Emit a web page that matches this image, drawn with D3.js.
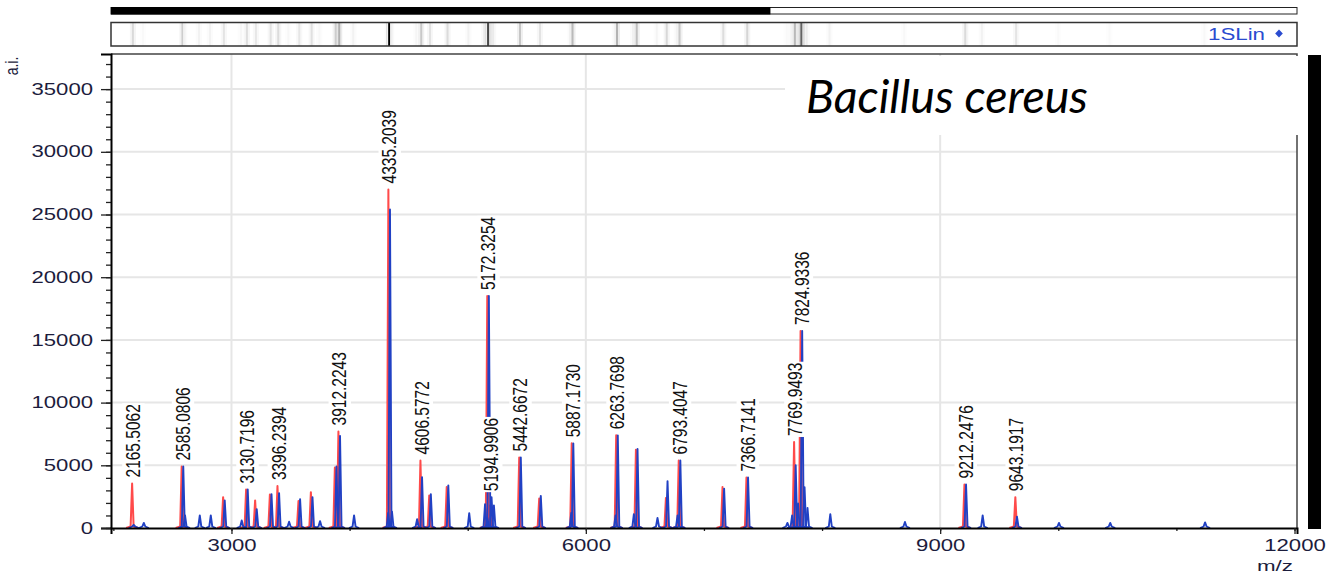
<!DOCTYPE html>
<html>
<head>
<meta charset="utf-8">
<script src="https://cdn.jsdelivr.net/npm/d3@7"></script>
<style>
  body { margin: 0; background: #fff; }
  svg { display: block; font-family: Arial, "Liberation Sans", sans-serif; }
</style>
</head>
<body>
<script>
/* ---------------------------------- Data ---------------------------------- */
// m/z of every stick seen in the spectrum (labelled peaks + smaller ones)
const peakMz = [2165.5, 2251, 2585.1, 2600, 2725, 2818, 2936, 3080, 3130.7, 3207,
  3332, 3396.2, 3481, 3574, 3679, 3743, 3882, 3912.2, 4031, 4320,
  4335.2, 4352, 4565, 4606.6, 4681, 4829, 5006, 5140, 5160, 5172.3,
  5195, 5215, 5442.7, 5612, 5870, 5887.2, 6245, 6263.8, 6400, 6431,
  6600, 6685, 6770, 6793.4, 7164, 7366.7, 7700, 7740, 7770, 7790,
  7824.9, 7845, 7870, 8063, 8695, 9212.2, 9353, 9643.2, 9999, 10433, 11236];
// intensity of the red (peak list) sticks, a.i.
const redInt = [3550, 0, 4900, 0, 0, 0, 2460, 0, 3080, 2200,
  2680, 3340, 0, 2150, 2860, 0, 4830, 7700, 0, 0,
  27000, 0, 0, 5390, 2600, 3260, 0, 0, 1500, 18500,
  1800, 0, 5630, 2350, 0, 6750, 0, 7390, 0, 6250,
  0, 2400, 0, 5390, 3260, 4030, 0, 0, 6860, 0,
  15720, 0, 0, 0, 0, 3470, 0, 2460, 0, 0, 0];
// intensity of the blue (raw spectrum) trace, a.i.
const blueInt = [250, 400, 4900, 1000, 1000, 1000, 2200, 600, 3080, 1500,
  2700, 2780, 500, 2300, 2460, 550, 4900, 7350, 1000, 1200,
  25400, 1300, 700, 4060, 2700, 3400, 1180, 1900, 800, 18500,
  2460, 1800, 5630, 2560, 1200, 6750, 1000, 7390, 1100, 6300,
  800, 3740, 1000, 5390, 3140, 4030, 400, 1000, 5000, 1950,
  15720, 3260, 1600, 1100, 480, 3470, 1000, 900, 400, 400, 450];

// annotated peaks
const labelMz = [2165.5062, 2585.0806, 3130.7196, 3396.2394, 3912.2243, 4335.2039,
  4606.5772, 5172.3254, 5194.9906, 5442.6672, 5887.1730, 6263.7698,
  6793.4047, 7366.7141, 7769.9493, 7824.9336, 9212.2476, 9643.1917];
const labelInt = [3550, 4900, 3080, 3340, 7700, 27000,
  5390, 18500, 2460, 5630, 6750, 7390,
  5390, 4030, 6860, 15720, 3470, 2460];

const xDomain = [1980, 12021];
const yDomain = [0, 37800];
const xMajorTicks = [3000, 6000, 9000, 12000];
const yMajorTicks = [0, 5000, 10000, 15000, 20000, 25000, 30000, 35000];
const title = "Bacillus cereus";
const sliderFraction = 0.556;

/* --------------------------------- Layout --------------------------------- */
const W = 1329, H = 574;
const plot = { left: 111, right: 1297, top: 54, bottom: 528 };
const red = "#ff4a4a", blue = "#2141c4", tickText = "#1c1c3c";
const stretch = 1.3;   // screenshot is wider than tall

const svg = d3.select("body").append("svg")
    .attr("width", W)
    .attr("height", H);

const x = d3.scaleLinear().domain(xDomain).range([plot.left, plot.right]);
const y = d3.scaleLinear().domain(yDomain).range([plot.bottom, plot.top]);

const peaks = peakMz.map((mz, i) => ({ mz, r: redInt[i], b: blueInt[i] }));

/* ------------------------------ Top slider bar ----------------------------- */
svg.append("rect")
    .attr("x", plot.left).attr("y", 7.5)
    .attr("width", plot.right - plot.left).attr("height", 6.5)
    .attr("fill", "#fff").attr("stroke", "#222").attr("stroke-width", 1);
svg.append("rect")
    .attr("x", plot.left).attr("y", 7)
    .attr("width", (plot.right - plot.left) * sliderFraction).attr("height", 7.5)
    .attr("fill", "#000");

/* ------------------------------- Gel strip -------------------------------- */
const gel = svg.append("g");
const gelTop = 22.5, gelH = 23.5;
gel.append("rect")
    .attr("x", plot.left).attr("y", gelTop)
    .attr("width", plot.right - plot.left).attr("height", gelH)
    .attr("fill", "#fff");
const maxInt = d3.max(peaks, d => Math.max(d.r, d.b));
// soft wide band
gel.selectAll("rect.band")
    .data(peaks)
    .enter().append("rect")
    .attr("class", "band")
    .attr("x", d => x(d.mz) - 3).attr("y", gelTop)
    .attr("width", 6).attr("height", gelH)
    .attr("fill", d => d3.interpolateGreys(Math.pow(Math.max(d.r, d.b) / maxInt, 0.7) * 0.6))
    .attr("opacity", 0.5);
gel.selectAll("rect.line")
    .data(peaks)
    .enter().append("rect")
    .attr("class", "line")
    .attr("x", d => x(d.mz) - 1).attr("y", gelTop)
    .attr("width", 2).attr("height", gelH)
    .attr("fill", d => d3.interpolateGreys(Math.pow(Math.max(d.r, d.b) / maxInt, 0.7)));
gel.append("rect")
    .attr("x", plot.left).attr("y", gelTop)
    .attr("width", plot.right - plot.left).attr("height", gelH)
    .attr("fill", "none").attr("stroke", "#333").attr("stroke-width", 1.5);
gel.append("text")
    .attr("x", 1208).attr("y", 39.5)
    .attr("font-size", 16).attr("textLength", 57).attr("lengthAdjust", "spacingAndGlyphs")
    .attr("fill", "#2a4cd0")
    .text("1SLin");
gel.append("path")
    .attr("d", d3.symbol(d3.symbolDiamond, 30)())
    .attr("transform", `translate(1279,33.5) scale(1.3,0.8)`)
    .attr("fill", "#2a4cd0");

/* -------------------------------- Gridlines ------------------------------- */
const grid = svg.append("g");
grid.selectAll("line.h")
    .data(yMajorTicks.filter(v => v > 0))
    .enter().append("line")
    .attr("x1", plot.left).attr("x2", plot.right)
    .attr("y1", d => y(d)).attr("y2", d => y(d))
    .attr("stroke", "#e6e6e6").attr("stroke-width", 2);
grid.selectAll("line.v")
    .data(xMajorTicks.filter(v => v < xDomain[1] - 100))
    .enter().append("line")
    .attr("x1", d => x(d)).attr("x2", d => x(d))
    .attr("y1", plot.top).attr("y2", plot.bottom)
    .attr("stroke", "#e6e6e6").attr("stroke-width", 2);

/* --------------------------------- Sticks --------------------------------- */
const base = y(0);
const stickPath = (mz, v, off, w) => {
  const px = x(mz) + off;
  return `M${px - w},${base}L${px - 1.5},${base - 1.5}L${px},${y(v)}L${px + 1.5},${base - 1.5}L${px + w},${base}`;
};
svg.append("g").selectAll("path")
    .data(peaks.filter(d => d.r > 0))
    .enter().append("path")
    .attr("d", d => stickPath(d.mz, d.r, -0.8, 6))
    .attr("fill", "none").attr("stroke", red).attr("stroke-width", 2)
    .attr("stroke-linejoin", "round");
svg.append("g").selectAll("path")
    .data(peaks.filter(d => d.b > 0))
    .enter().append("path")
    .attr("d", d => stickPath(d.mz, d.b, 0.8, 5))
    .attr("fill", "none").attr("stroke", blue).attr("stroke-width", 1.9)
    .attr("stroke-linejoin", "round");

/* --------------------------------- Labels --------------------------------- */
const labels = svg.append("g").selectAll("g")
    .data(labelMz.map((mz, i) => ({ mz, v: labelInt[i] })))
    .enter().append("g")
    .attr("transform", d => `translate(${x(d.mz)},${y(d.v) - 6}) rotate(-90) scale(1,${stretch})`);
labels.append("rect").attr("fill", "#fff");
labels.append("text")
    .attr("font-size", 15.5)
    .attr("dy", "0.36em")
    .attr("fill", "#111")
    .text(d => d.mz.toFixed(4));
labels.each(function () {
  const bb = d3.select(this).select("text").node().getBBox();
  d3.select(this).select("rect")
      .attr("x", bb.x - 1).attr("y", bb.y)
      .attr("width", bb.width + 2).attr("height", bb.height);
});

/* ---------------------------------- Axes ---------------------------------- */
// frame (top + right)
svg.append("path")
    .attr("d", `M${plot.left},${plot.top}H${plot.right}V${plot.bottom}`)
    .attr("fill", "none").attr("stroke", "#444").attr("stroke-width", 1.5);

const yMinor = svg.append("g")
    .attr("transform", `translate(${plot.left},0)`)
    .call(d3.axisLeft(y).tickValues(d3.range(0, yDomain[1], 1000)).tickSize(5).tickFormat(""));
yMinor.select(".domain").remove();
const yAxis = svg.append("g")
    .attr("transform", `translate(${plot.left},0)`)
    .call(d3.axisLeft(y).tickValues(yMajorTicks).tickSize(10).tickPadding(8).tickFormat(d3.format("d")));

const xMinor = svg.append("g")
    .attr("transform", `translate(0,${plot.bottom})`)
    .call(d3.axisBottom(x).tickValues(d3.range(2000, 12001, 1000)).tickSize(3).tickFormat(""));
xMinor.select(".domain").remove();
const xAxis = svg.append("g")
    .attr("transform", `translate(0,${plot.bottom})`)
    .call(d3.axisBottom(x).tickValues(xMajorTicks).tickSize(6).tickPadding(6).tickFormat(d3.format("d")));

[yMinor, yAxis, xMinor, xAxis].forEach(a => {
  a.selectAll(".tick line").attr("stroke", "#222").attr("stroke-width", 1.3);
  a.select(".domain").attr("stroke", "#000").attr("stroke-width", 2);
});
[yAxis, xAxis].forEach(a => {
  a.selectAll("text")
      .attr("font-size", 16)
      .attr("font-family", "Arial, 'Liberation Sans', sans-serif")
      .attr("fill", tickText)
      .attr("textLength", function () { return this.textContent.length * 12.3; })
      .attr("lengthAdjust", "spacingAndGlyphs");
});

// axis titles
svg.append("text")
    .attr("transform", `translate(12,66) rotate(-90) scale(1,${stretch})`)
    .attr("text-anchor", "middle").attr("dy", "0.35em")
    .attr("font-size", 14).attr("fill", tickText)
    .text("a.i.");
svg.append("text")
    .attr("x", 1275).attr("y", 571)
    .attr("text-anchor", "middle")
    .attr("font-size", 14).attr("textLength", 36).attr("lengthAdjust", "spacingAndGlyphs")
    .attr("fill", tickText)
    .text("m/z");

/* ------------------------------ Title / side bar --------------------------- */
svg.append("rect")
    .attr("x", 785).attr("y", 56)
    .attr("width", 516).attr("height", 79)
    .attr("fill", "#fff");
svg.append("text")
    .attr("x", 806).attr("y", 113)
    .attr("font-family", "Lato, 'Open Sans', sans-serif")
    .attr("font-style", "italic")
    .attr("font-size", 46)
    .attr("textLength", 282).attr("lengthAdjust", "spacingAndGlyphs")
    .attr("fill", "#000")
    .text(title);
svg.append("rect")
    .attr("x", 1308).attr("y", 55)
    .attr("width", 13).attr("height", 474)
    .attr("fill", "#000");
</script>
</body>
</html>
